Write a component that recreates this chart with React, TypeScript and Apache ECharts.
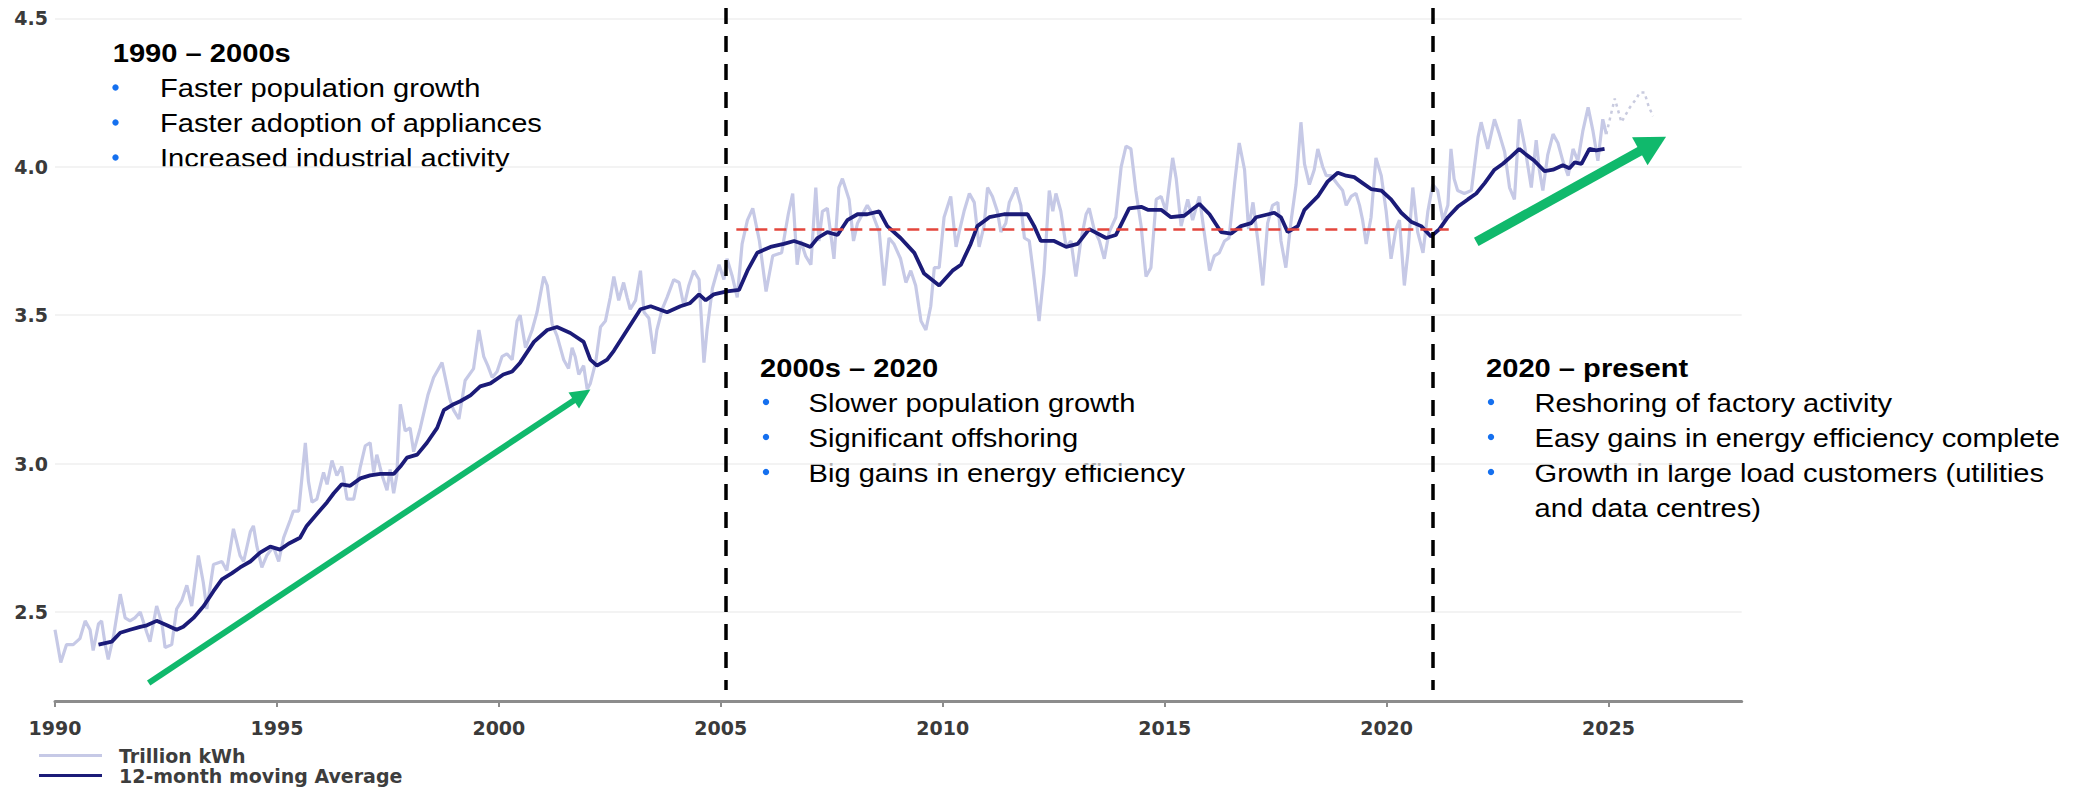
import React, { useEffect, useRef } from "react";
import * as echarts from "echarts";

// ---------- data ----------
const yearTicks = [1990, 1995, 2000, 2005, 2010, 2015, 2020, 2025];
const valueTicks = [2.5, 3.0, 3.5, 4.0, 4.5];

// monthly electricity use, trillion kWh ([decimal year, value])
const trillionKwh: [number, number][] = [
  [1990.0, 2.44], [1990.13, 2.33], [1990.26, 2.39], [1990.41, 2.39], [1990.56, 2.41], [1990.68, 2.47],
  [1990.79, 2.44], [1990.86, 2.37], [1990.98, 2.46], [1991.05, 2.47], [1991.13, 2.39], [1991.2, 2.34],
  [1991.32, 2.42], [1991.47, 2.56], [1991.58, 2.48], [1991.69, 2.47], [1991.8, 2.48], [1991.92, 2.5],
  [1992.07, 2.43], [1992.14, 2.4], [1992.29, 2.52], [1992.41, 2.46], [1992.48, 2.38], [1992.63, 2.39],
  [1992.74, 2.51], [1992.86, 2.54], [1992.97, 2.59], [1993.08, 2.52], [1993.23, 2.69], [1993.34, 2.6],
  [1993.42, 2.51], [1993.57, 2.66], [1993.76, 2.67], [1993.87, 2.64], [1994.02, 2.78], [1994.17, 2.69],
  [1994.25, 2.67], [1994.4, 2.77], [1994.47, 2.79], [1994.55, 2.72], [1994.66, 2.65], [1994.77, 2.69],
  [1994.92, 2.72], [1995.04, 2.67], [1995.15, 2.75], [1995.3, 2.81], [1995.37, 2.84], [1995.49, 2.84],
  [1995.64, 3.07], [1995.71, 2.94], [1995.79, 2.87], [1995.9, 2.88], [1996.05, 2.97], [1996.13, 2.93],
  [1996.24, 3.01], [1996.35, 2.96], [1996.46, 2.99], [1996.58, 2.88], [1996.73, 2.88], [1996.88, 2.99],
  [1996.99, 3.06], [1997.1, 3.07], [1997.18, 2.97], [1997.25, 3.03], [1997.37, 2.96], [1997.48, 2.91],
  [1997.55, 2.98], [1997.63, 2.9], [1997.7, 2.96], [1997.78, 3.2], [1997.89, 3.11], [1998.0, 3.12],
  [1998.08, 3.04], [1998.23, 3.12], [1998.4, 3.23], [1998.53, 3.29], [1998.72, 3.34], [1998.89, 3.22],
  [1998.98, 3.18], [1999.1, 3.15], [1999.24, 3.28], [1999.43, 3.32], [1999.55, 3.45], [1999.66, 3.36],
  [1999.75, 3.33], [1999.85, 3.29], [1999.96, 3.31], [2000.07, 3.36], [2000.18, 3.37], [2000.3, 3.35],
  [2000.41, 3.48], [2000.48, 3.5], [2000.6, 3.39], [2000.75, 3.45], [2000.86, 3.51], [2001.01, 3.63],
  [2001.09, 3.6], [2001.2, 3.47], [2001.31, 3.43], [2001.46, 3.35], [2001.57, 3.32], [2001.65, 3.39],
  [2001.72, 3.36], [2001.8, 3.3], [2001.91, 3.33], [2001.99, 3.25], [2002.06, 3.27], [2002.18, 3.34],
  [2002.29, 3.46], [2002.4, 3.48], [2002.51, 3.56], [2002.59, 3.63], [2002.7, 3.55], [2002.81, 3.61],
  [2002.89, 3.56], [2002.96, 3.52], [2003.08, 3.55], [2003.19, 3.65], [2003.27, 3.51], [2003.38, 3.49],
  [2003.49, 3.37], [2003.56, 3.45], [2003.68, 3.52], [2003.79, 3.56], [2003.94, 3.62], [2004.06, 3.61],
  [2004.17, 3.53], [2004.28, 3.6], [2004.39, 3.65], [2004.51, 3.62], [2004.62, 3.34], [2004.69, 3.45],
  [2004.81, 3.59], [2004.96, 3.67], [2005.07, 3.62], [2005.14, 3.69], [2005.26, 3.63], [2005.37, 3.56],
  [2005.48, 3.74], [2005.6, 3.82], [2005.72, 3.86], [2005.87, 3.75], [2006.02, 3.58], [2006.17, 3.7],
  [2006.37, 3.71], [2006.52, 3.84], [2006.62, 3.91], [2006.72, 3.67], [2006.8, 3.75], [2006.91, 3.7],
  [2007.03, 3.67], [2007.14, 3.93], [2007.21, 3.75], [2007.29, 3.85], [2007.4, 3.86], [2007.48, 3.77],
  [2007.55, 3.69], [2007.66, 3.93], [2007.74, 3.96], [2007.89, 3.89], [2007.99, 3.75], [2008.08, 3.81],
  [2008.19, 3.84], [2008.3, 3.87], [2008.42, 3.84], [2008.57, 3.78], [2008.68, 3.6], [2008.79, 3.76],
  [2008.9, 3.74], [2009.05, 3.69], [2009.17, 3.61], [2009.28, 3.65], [2009.39, 3.6], [2009.51, 3.48],
  [2009.62, 3.45], [2009.73, 3.53], [2009.81, 3.66], [2009.92, 3.66], [2010.03, 3.83], [2010.18, 3.9],
  [2010.3, 3.73], [2010.37, 3.78], [2010.48, 3.85], [2010.6, 3.91], [2010.71, 3.88], [2010.82, 3.73],
  [2010.93, 3.8], [2011.01, 3.93], [2011.12, 3.9], [2011.23, 3.85], [2011.31, 3.78], [2011.42, 3.81],
  [2011.5, 3.88], [2011.65, 3.93], [2011.76, 3.87], [2011.84, 3.76], [2011.95, 3.75], [2012.06, 3.62],
  [2012.17, 3.48], [2012.28, 3.64], [2012.4, 3.92], [2012.48, 3.85], [2012.55, 3.91], [2012.66, 3.85],
  [2012.78, 3.73], [2012.89, 3.75], [2013.0, 3.63], [2013.11, 3.75], [2013.23, 3.84], [2013.3, 3.86],
  [2013.41, 3.79], [2013.53, 3.75], [2013.64, 3.69], [2013.75, 3.78], [2013.9, 3.83], [2014.02, 4.0],
  [2014.13, 4.07], [2014.24, 4.06], [2014.35, 3.92], [2014.47, 3.8], [2014.58, 3.63], [2014.69, 3.66],
  [2014.81, 3.89], [2014.92, 3.9], [2015.03, 3.85], [2015.18, 4.03], [2015.26, 3.96], [2015.37, 3.8],
  [2015.52, 3.89], [2015.63, 3.82], [2015.78, 3.9], [2015.89, 3.78], [2016.01, 3.65], [2016.12, 3.7],
  [2016.23, 3.71], [2016.35, 3.75], [2016.45, 3.76], [2016.58, 3.95], [2016.68, 4.08], [2016.8, 3.99],
  [2016.89, 3.79], [2016.99, 3.88], [2017.1, 3.75], [2017.21, 3.6], [2017.32, 3.81], [2017.43, 3.87],
  [2017.55, 3.88], [2017.62, 3.75], [2017.73, 3.66], [2017.85, 3.82], [2017.96, 3.94], [2018.07, 4.15],
  [2018.15, 4.01], [2018.26, 3.94], [2018.37, 3.99], [2018.45, 4.06], [2018.56, 4.0], [2018.64, 3.97],
  [2018.75, 3.97], [2018.9, 3.94], [2019.01, 3.92], [2019.09, 3.87], [2019.2, 3.9], [2019.31, 3.91],
  [2019.39, 3.87], [2019.46, 3.82], [2019.54, 3.74], [2019.65, 3.83], [2019.76, 4.03], [2019.88, 3.97],
  [2019.99, 3.85], [2020.1, 3.69], [2020.21, 3.79], [2020.29, 3.82], [2020.4, 3.6], [2020.48, 3.71],
  [2020.59, 3.93], [2020.7, 3.78], [2020.82, 3.71], [2020.93, 3.85], [2021.04, 3.94], [2021.15, 3.92],
  [2021.27, 3.82], [2021.38, 3.87], [2021.45, 4.06], [2021.52, 3.96], [2021.6, 3.92], [2021.75, 3.91],
  [2021.91, 3.92], [2022.06, 4.1], [2022.13, 4.15], [2022.28, 4.06], [2022.43, 4.16], [2022.54, 4.11],
  [2022.66, 4.05], [2022.77, 3.93], [2022.88, 3.89], [2022.99, 4.16], [2023.11, 4.07], [2023.26, 3.93],
  [2023.37, 4.09], [2023.44, 3.99], [2023.52, 3.92], [2023.63, 4.04], [2023.75, 4.11], [2023.86, 4.08],
  [2023.97, 4.02], [2024.09, 3.97], [2024.2, 4.06], [2024.31, 4.02], [2024.42, 4.12], [2024.54, 4.2],
  [2024.65, 4.12], [2024.76, 4.02], [2024.87, 4.16], [2024.95, 4.11],
];

// dotted outlook continuation of the monthly series
const trillionKwhOutlook: [number, number][] = [
  [2024.95, 4.11], [2025.06, 4.18], [2025.14, 4.23], [2025.29, 4.15], [2025.48, 4.2], [2025.63, 4.23],
  [2025.7, 4.25], [2025.81, 4.25], [2025.89, 4.21], [2026.0, 4.17],
];

// 12-month moving average
const movingAverage: [number, number][] = [
  [1990.98, 2.39], [1991.28, 2.4], [1991.47, 2.43], [1991.69, 2.44], [1991.92, 2.45], [1992.07, 2.455],
  [1992.29, 2.47], [1992.52, 2.455], [1992.74, 2.44], [1992.89, 2.45], [1993.12, 2.48], [1993.35, 2.52],
  [1993.57, 2.57], [1993.76, 2.61], [1993.98, 2.63], [1994.17, 2.65], [1994.4, 2.67], [1994.62, 2.7],
  [1994.85, 2.72], [1995.07, 2.71], [1995.26, 2.73], [1995.52, 2.75], [1995.67, 2.79], [1995.9, 2.83],
  [1996.13, 2.87], [1996.28, 2.9], [1996.46, 2.93], [1996.65, 2.925], [1996.88, 2.95], [1997.1, 2.96],
  [1997.33, 2.965], [1997.63, 2.965], [1997.78, 2.99], [1997.93, 3.02], [1998.16, 3.03], [1998.38, 3.07],
  [1998.61, 3.12], [1998.76, 3.18], [1998.98, 3.2], [1999.13, 3.21], [1999.36, 3.23], [1999.58, 3.26],
  [1999.81, 3.27], [2000.1, 3.3], [2000.3, 3.31], [2000.48, 3.34], [2000.79, 3.41], [2001.09, 3.45],
  [2001.31, 3.46], [2001.61, 3.44], [2001.91, 3.41], [2002.06, 3.35], [2002.21, 3.33], [2002.44, 3.35],
  [2002.59, 3.38], [2002.89, 3.45], [2003.19, 3.52], [2003.42, 3.53], [2003.79, 3.51], [2004.09, 3.53],
  [2004.3, 3.54], [2004.51, 3.57], [2004.66, 3.55], [2004.84, 3.57], [2005.14, 3.58], [2005.41, 3.585],
  [2005.6, 3.65], [2005.82, 3.71], [2006.12, 3.73], [2006.42, 3.74], [2006.65, 3.75], [2006.85, 3.74],
  [2007.02, 3.73], [2007.18, 3.76], [2007.4, 3.78], [2007.63, 3.77], [2007.85, 3.82], [2008.08, 3.84],
  [2008.3, 3.84], [2008.57, 3.85], [2008.75, 3.8], [2009.05, 3.76], [2009.36, 3.71], [2009.58, 3.64],
  [2009.92, 3.6], [2010.22, 3.65], [2010.41, 3.67], [2010.63, 3.74], [2010.78, 3.8], [2011.05, 3.83],
  [2011.38, 3.84], [2011.91, 3.84], [2012.06, 3.8], [2012.21, 3.75], [2012.51, 3.75], [2012.78, 3.73],
  [2013.04, 3.74], [2013.3, 3.79], [2013.68, 3.76], [2013.9, 3.77], [2014.2, 3.86], [2014.47, 3.865],
  [2014.62, 3.855], [2014.92, 3.855], [2015.14, 3.83], [2015.44, 3.835], [2015.78, 3.875], [2016.01, 3.84],
  [2016.27, 3.78], [2016.5, 3.775], [2016.72, 3.8], [2016.95, 3.81], [2017.06, 3.83], [2017.47, 3.845],
  [2017.62, 3.83], [2017.77, 3.78], [2018.0, 3.8], [2018.15, 3.855], [2018.45, 3.9], [2018.67, 3.95],
  [2018.9, 3.98], [2019.09, 3.97], [2019.27, 3.965], [2019.46, 3.945], [2019.65, 3.925], [2019.88, 3.92],
  [2020.1, 3.89], [2020.33, 3.845], [2020.55, 3.815], [2020.78, 3.8], [2021.0, 3.765], [2021.19, 3.79],
  [2021.38, 3.83], [2021.6, 3.865], [2021.83, 3.89], [2022.02, 3.91], [2022.21, 3.945], [2022.43, 3.99],
  [2022.62, 4.01], [2022.81, 4.035], [2022.99, 4.06], [2023.15, 4.04], [2023.33, 4.02], [2023.56, 3.985],
  [2023.75, 3.99], [2023.97, 4.005], [2024.12, 3.995], [2024.24, 4.015], [2024.39, 4.01], [2024.57, 4.06],
  [2024.72, 4.055], [2024.91, 4.06],
];

// period boundaries (years) and their vertical extent (values)
const periodBreaks = [2005.12, 2021.03];
const breakSpan = [4.535, 2.237];
// plateau reference level
const plateauLevel = 3.79;
const plateauYears = [2005.35, 2021.4];
// trend arrows: start and end (arrow-head centre) in [year, value]
const arrowStarts: [number, number][] = [[1992.11, 2.261], [2022.02, 3.747]];
const arrowEnds: [number, number][] = [[2001.875, 3.231], [2026.0, 4.077]];

const legendNames = ["Trillion kWh", "12-month moving Average"];

const periodTitles = ["1990 \u2013 2000s", "2000s \u2013 2020", "2020 \u2013 present"];
const periodBullets = [
  ["Faster population growth", "Faster adoption of appliances", "Increased industrial activity"],
  ["Slower population growth", "Significant offshoring", "Big gains in energy efficiency"],
  [
    "Reshoring of factory activity",
    "Easy gains in energy efficiency complete",
    "Growth in large load customers (utilities",
    "and data centres)",
  ],
];
const bulletHasDot = [
  [true, true, true],
  [true, true, true],
  [true, true, true, false],
];

// ---------- presentation ----------
const W = 2088;
const H = 789;
const TEXT_FONT = '"Liberation Sans", Arial, sans-serif';
const AXIS_FONT = '"DejaVu Sans", Verdana, sans-serif';
const blockPos = [
  { titleX: 112.7, dotX: 115.5, textX: 160, base: 62.5 },
  { titleX: 760, dotX: 766, textX: 808.5, base: 377 },
  { titleX: 1486, dotX: 1491, textX: 1534.5, base: 377 },
];

function buildAnnotations() {
  const els: any[] = [];
  const sx = 1.12;
  periodTitles.forEach((title, b) => {
    const p = blockPos[b];
    els.push({
      type: "text",
      x: p.titleX,
      y: p.base - 9,
      scaleX: sx,
      silent: true,
      style: {
        text: title,
        x: 0,
        y: 0,
        fill: "#000",
        fontFamily: TEXT_FONT,
        fontSize: 26,
        fontWeight: "bold",
        verticalAlign: "middle",
      },
    });
    periodBullets[b].forEach((line, i) => {
      const base = p.base + 35 * (i + 1);
      if (bulletHasDot[b][i]) {
        els.push({
          type: "circle",
          silent: true,
          shape: { cx: p.dotX, cy: base - 10, r: 3.2 },
          style: { fill: "#1570ef" },
        });
      }
      els.push({
        type: "text",
        x: p.textX,
        y: base - 9,
        scaleX: sx,
        silent: true,
        style: {
          text: line,
          x: 0,
          y: 0,
          fill: "#000",
          fontFamily: TEXT_FONT,
          fontSize: 26,
          verticalAlign: "middle",
        },
      });
    });
  });
  return els;
}

function buildMarkLines() {
  const data: any[] = [];
  periodBreaks.forEach((yr) => {
    data.push([
      { coord: [yr, breakSpan[0]], lineStyle: { color: "#000", width: 3.5, type: [16, 12] } },
      { coord: [yr, breakSpan[1]] },
    ]);
  });
  data.push([
    { coord: [plateauYears[0], plateauLevel], lineStyle: { color: "#e3463c", width: 2.5, type: [12, 7] } },
    { coord: [plateauYears[1], plateauLevel] },
  ]);
  const widths = [6, 9.5];
  const heads = [
    [19, 20],
    [32, 30],
  ];
  arrowStarts.forEach((s, i) => {
    data.push([
      { coord: s, symbol: "none", lineStyle: { color: "#10b96c", width: widths[i], type: "solid", cap: "butt" } },
      { coord: arrowEnds[i], symbol: "triangle", symbolSize: heads[i] },
    ]);
  });
  return {
    silent: true,
    symbol: ["none", "none"],
    label: { show: false },
    emphasis: { disabled: true },
    animation: false,
    data,
  };
}

export default function App() {
  const ref = useRef<HTMLDivElement>(null);

  useEffect(() => {
    if (!ref.current) return;
    const chart = echarts.init(ref.current, undefined, { renderer: "svg" });
    chart.setOption({
      animation: false,
      backgroundColor: "#ffffff",
      grid: { left: 55, right: W - 1741.7, top: 6.5, bottom: 88, outerBoundsMode: "none" },
      legend: {
        data: legendNames,
        orient: "vertical",
        left: 39,
        top: 746,
        height: 60,
        padding: 0,
        itemWidth: 63,
        itemHeight: 3,
        itemGap: 1,
        icon: "rect",
        selectedMode: false,
        textStyle: {
          fontFamily: AXIS_FONT,
          fontWeight: "bold",
          fontSize: 19,
          color: "#3d3d3d",
          lineHeight: 18,
          padding: [0, 0, 0, 12],
        },
      },
      xAxis: {
        type: "value",
        min: 1990,
        max: 2028,
        interval: 5,
        axisLine: { show: true, lineStyle: { color: "#8c8c8c", width: 3 } },
        axisTick: { show: true, length: 6, lineStyle: { color: "#8c8c8c", width: 2 }, customValues: yearTicks },
        axisLabel: {
          customValues: yearTicks,
          margin: 17,
          fontFamily: AXIS_FONT,
          fontWeight: "bold",
          fontSize: 19,
          color: "#3a3a3a",
          formatter: (v: number) => String(v),
        },
        splitLine: { show: false },
      },
      yAxis: {
        type: "value",
        min: 2.2,
        max: 4.54,
        axisLine: { show: false },
        axisTick: { show: false, customValues: valueTicks },
        axisLabel: {
          customValues: valueTicks,
          margin: 7,
          align: "right",
          fontFamily: AXIS_FONT,
          fontWeight: "bold",
          fontSize: 19,
          color: "#3a3a3a",
          formatter: (v: number) => v.toFixed(1),
        },
        splitLine: { show: true, lineStyle: { color: "#efefef", width: 1.5 } },
      },
      series: [
        {
          name: legendNames[0],
          type: "line",
          data: trillionKwh,
          showSymbol: false,
          symbol: "none",
          smooth: false,
          lineStyle: { color: "#c6c9e6", width: 3.2 },
          itemStyle: { color: "#c6c9e6" },
          z: 2,
        },
        {
          name: "Outlook",
          type: "line",
          data: trillionKwhOutlook,
          showSymbol: false,
          symbol: "none",
          lineStyle: { color: "#c9cbdf", width: 2.5, type: [3, 4] },
          itemStyle: { color: "#c9cbdf" },
          z: 2,
        },
        {
          name: legendNames[1],
          type: "line",
          data: movingAverage,
          showSymbol: false,
          symbol: "none",
          lineStyle: { color: "#1b1b78", width: 3.8 },
          itemStyle: { color: "#1b1b78" },
          z: 3,
          markLine: buildMarkLines(),
        },
      ],
      graphic: buildAnnotations(),
    });
    return () => chart.dispose();
  }, []);

  return (
    <div
      ref={ref}
      style={{ position: "fixed", left: 0, top: 0, width: W, height: H, background: "#fff" }}
    />
  );
}
